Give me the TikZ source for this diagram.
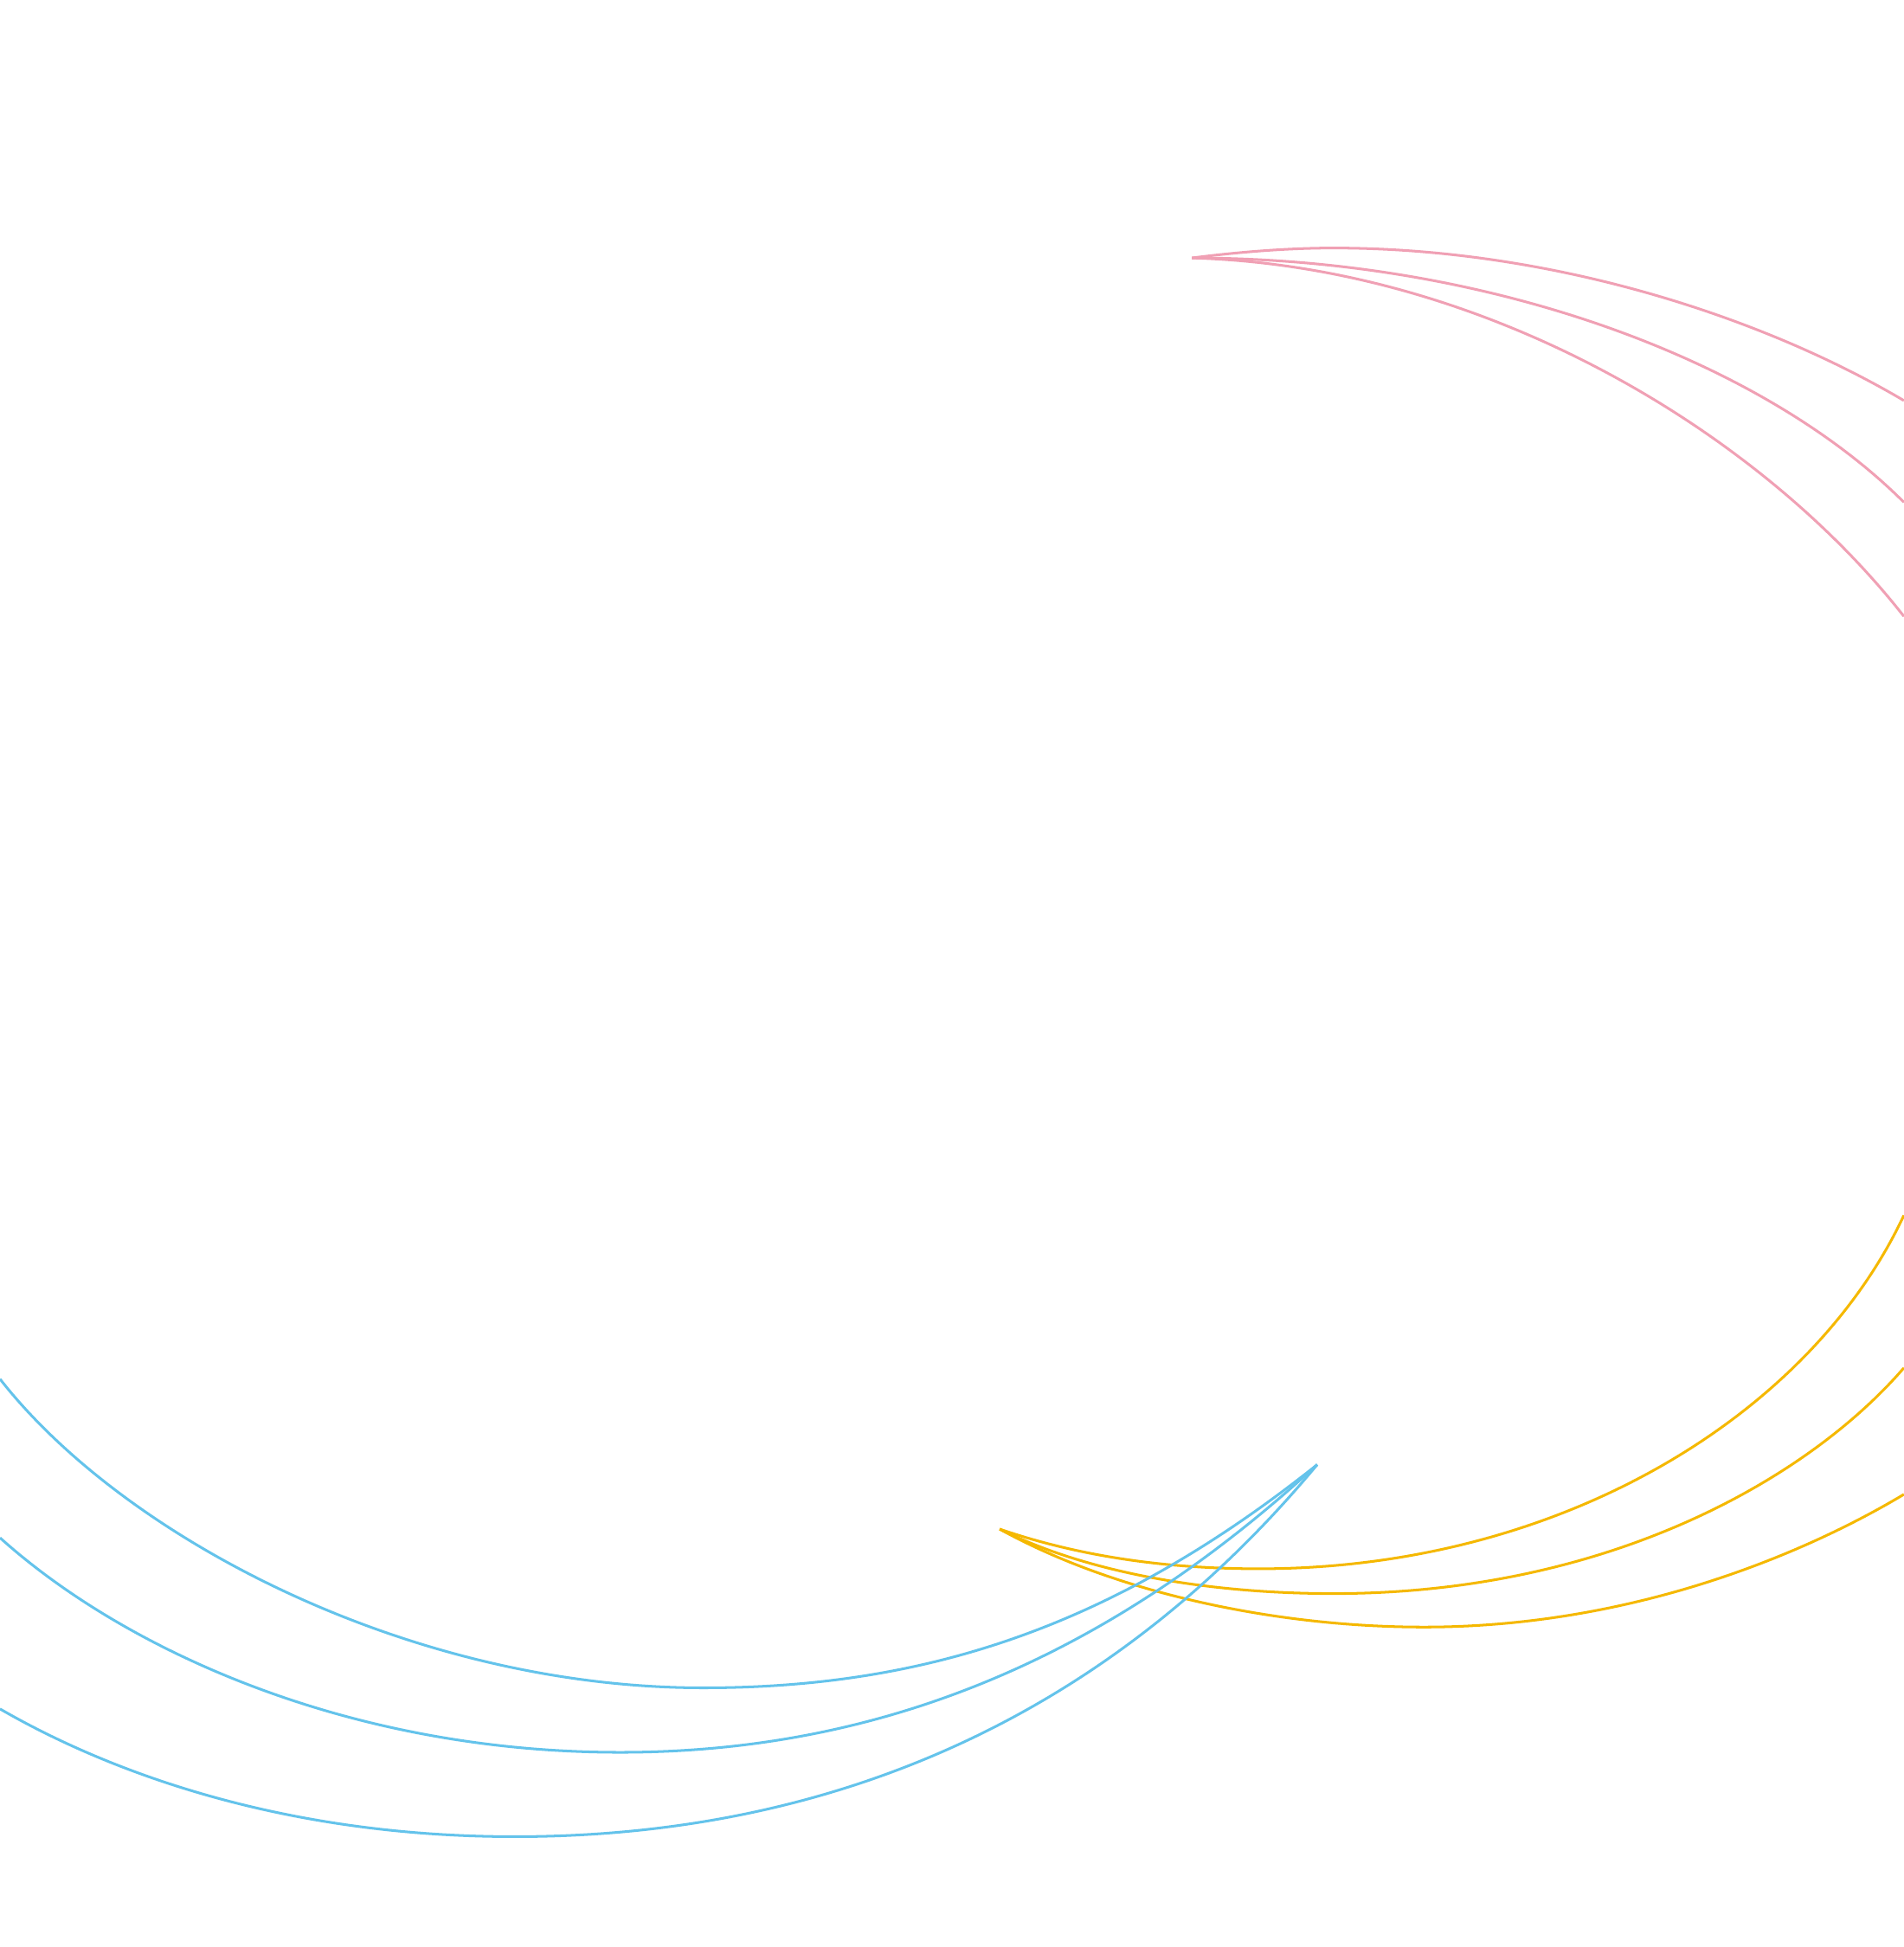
\documentclass[tikz,border=0pt]{standalone}
\usepackage{tikz}
\definecolor{arcblue}{RGB}{100,195,235}
\definecolor{arcyellow}{RGB}{245,184,0}
\definecolor{arcpink}{RGB}{240,160,180}
\tikzset{arc/.style={line width=0.6pt}}

\begin{document}
\begin{tikzpicture}[x=0.01cm,y=-0.01cm]

  \useasboundingbox (0,0) rectangle (1535,1570);

  \coordinate (pinktip) at (961,208);
  \coordinate (yellowtip) at (806,1233);
  \coordinate (bluetip) at (1062,1181);

  % pink arcs
  \draw[arc,arcpink] (pinktip) .. controls (1000,203) and (1040,200) .. (1075,200)
    .. controls (1250,200) and (1420,255) .. (1535,323);
  \draw[arc,arcpink] (pinktip) .. controls (1200,208) and (1420,290) .. (1535,405);
  \draw[arc,arcpink] (pinktip) .. controls (1200,215) and (1420,350) .. (1535,497);

  % yellow arcs
  \draw[arc,arcyellow] (yellowtip) .. controls (870,1255) and (940,1265) .. (1015,1265)
    .. controls (1260,1265) and (1460,1140) .. (1535,980);
  \draw[arc,arcyellow] (yellowtip) .. controls (880,1270) and (980,1285) .. (1075,1285)
    .. controls (1300,1285) and (1460,1190) .. (1535,1103);
  \draw[arc,arcyellow] (yellowtip) .. controls (900,1285) and (1030,1312) .. (1148,1312)
    .. controls (1320,1312) and (1460,1250) .. (1535,1205);

  % blue arcs
  \draw[arc,arcblue] (bluetip) .. controls (900,1310) and (750,1361) .. (567,1361)
    .. controls (330,1361) and (100,1240) .. (0,1112);
  \draw[arc,arcblue] (bluetip) .. controls (900,1330) and (720,1413) .. (500,1413)
    .. controls (280,1413) and (100,1330) .. (0,1240);
  \draw[arc,arcblue] (bluetip) .. controls (880,1400) and (650,1481) .. (415,1481)
    .. controls (230,1481) and (90,1430) .. (0,1378);

\end{tikzpicture}
\end{document}
